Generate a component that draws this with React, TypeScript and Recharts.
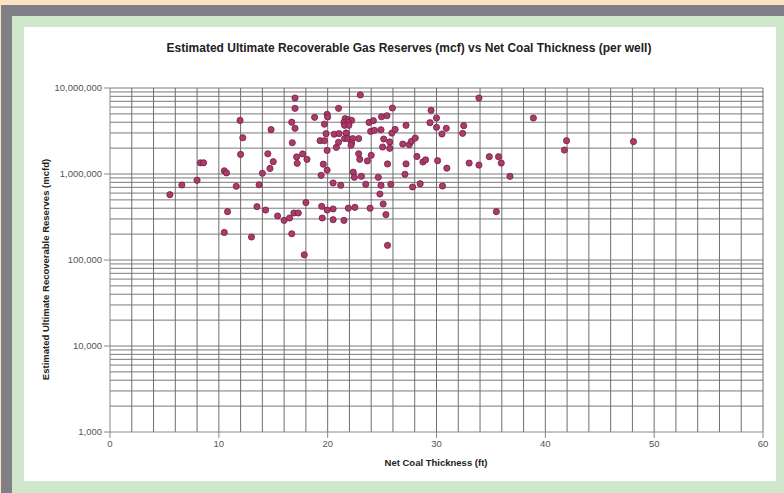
import React from "react";
import {
  ReferenceLine,
  Scatter,
  ScatterChart,
  XAxis,
  YAxis,
} from "recharts";

// net coal thickness (ft) per well
const thickness = [
  5.5, 6.6, 8.0, 8.3, 8.6, 10.5, 10.7, 10.8, 10.5, 11.6, 11.95, 12.2, 12.0, 13.0, 13.5, 13.7,
  14.0, 14.3, 14.5, 14.7, 14.8, 15.0, 15.4, 16.0, 16.5, 16.7, 16.9, 17.3, 16.7, 16.75, 17.0,
  17.0, 17.0, 17.15, 17.2, 17.7, 17.85, 18.0, 18.1, 18.8, 19.3, 19.4, 19.45, 19.5, 19.6, 19.7,
  19.7, 19.85, 19.95, 20.0, 19.95, 19.95, 19.95, 20.5, 20.5, 20.5, 20.6, 20.8, 21.0, 21.05,
  21.0, 21.2, 21.5, 21.6, 21.9, 22.2, 21.5, 21.9, 21.55, 21.95, 21.7, 21.55, 21.85, 22.3,
  22.85, 22.2, 22.15, 21.9, 22.35, 22.45, 22.5, 22.85, 23.0, 22.95, 23.1, 23.5, 23.65, 23.8,
  23.9, 23.95, 24.0, 24.2, 24.3, 24.65, 24.8, 24.9, 24.9, 24.95, 25.05, 25.1, 25.15, 25.35,
  25.45, 25.5, 25.5, 25.7, 25.7, 25.8, 25.9, 25.95, 26.2, 26.9, 27.1, 27.2, 27.2, 27.5, 27.7,
  27.8, 28.05, 28.2, 28.5, 28.75, 29.0, 29.4, 29.5, 30.0, 30.0, 30.1, 30.5, 30.55, 30.9,
  30.95, 32.4, 32.5, 33.0, 33.9, 33.9, 34.85, 35.5, 35.7, 35.95, 36.75, 38.9, 41.75, 41.95,
  48.1,
];

// estimated ultimate recoverable reserves (mcf) per well
const reserves = [
  575000, 745000, 845000, 1350000, 1350000, 1090000, 1030000, 365000, 209000, 720000,
  4200000, 2640000, 1690000, 185000, 417000, 750000, 1020000, 381000, 1720000, 1160000,
  3280000, 1390000, 325000, 289000, 308000, 202000, 352000, 352000, 4000000, 2310000,
  7650000, 5800000, 3400000, 1580000, 1330000, 1710000, 115000, 465000, 1480000, 4560000,
  2440000, 966000, 421000, 308000, 1300000, 3800000, 2440000, 2940000, 4940000, 4600000,
  1880000, 1110000, 381000, 786000, 392000, 294000, 2900000, 2040000, 5800000, 2950000,
  2340000, 739000, 289000, 4400000, 4300000, 4200000, 3980000, 3980000, 3680000, 3680000,
  3000000, 2580000, 2580000, 2580000, 2580000, 2300000, 2160000, 400000, 1050000, 916000,
  410000, 1720000, 8300000, 1480000, 940000, 760000, 1420000, 3980000, 400000, 3130000,
  1650000, 4170000, 3220000, 916000, 585000, 3270000, 739000, 4630000, 2060000, 448000,
  2550000, 337000, 4760000, 1310000, 148000, 2360000, 1990000, 760000, 2990000, 5850000,
  3300000, 2230000, 993000, 3680000, 1310000, 2190000, 2400000, 706000, 2620000, 1600000,
  771000, 1380000, 1460000, 3950000, 5500000, 4480000, 3490000, 1430000, 2920000, 725000,
  3400000, 1170000, 2970000, 3650000, 1340000, 7650000, 1270000, 1590000, 365000, 1590000,
  1340000, 940000, 4480000, 1900000, 2440000, 2380000,
];

const xTicks = [0, 10, 20, 30, 40, 50, 60];
const yTicks = [1000, 10000, 100000, 1000000, 10000000];
const xGridValues = [
  2, 4, 6, 8, 10, 12, 14, 16, 18, 20, 22, 24, 26, 28, 30, 32, 34, 36, 38, 40, 42, 44, 46, 48,
  50, 52, 54, 56, 58, 60,
];
const yGridValues = [
  2000, 3000, 4000, 5000, 6000, 7000, 8000, 9000,
  10000, 20000, 30000, 40000, 50000, 60000, 70000, 80000, 90000,
  100000, 200000, 300000, 400000, 500000, 600000, 700000, 800000, 900000,
  1000000, 2000000, 3000000, 4000000, 5000000, 6000000, 7000000, 8000000, 9000000,
  10000000,
];

const data = thickness.map((t, i) => ({ thickness: t, reserves: reserves[i] }));

const font = "'Liberation Sans', Arial, sans-serif";

function Dot(props: any) {
  const { cx, cy } = props;
  if (cx == null || cy == null) return null;
  return <circle cx={cx} cy={cy} r={3.1} fill="#ad3a6e" stroke="#71203f" strokeWidth={0.8} />;
}

export default function App() {
  return (
    <div
      style={{
        position: "absolute",
        left: 0,
        top: 0,
        width: 784,
        height: 493,
        background: "#fddfc2",
        overflow: "hidden",
        fontFamily: font,
      }}
    >
      <div style={{ position: "absolute", left: 1, top: 5, width: 783, height: 488, background: "#7f7f85" }} />
      <div style={{ position: "absolute", left: 12, top: 16, width: 772, height: 477, background: "#cfe8cc" }} />
      <div style={{ position: "absolute", left: 24, top: 27, width: 752, height: 454, background: "#ffffff" }}>
        <div
          style={{
            position: "absolute",
            left: 0,
            width: 770,
            top: 14,
            textAlign: "center",
            fontSize: 12,
            fontWeight: "bold",
            color: "#222",
          }}
        >
          Estimated Ultimate Recoverable Gas Reserves (mcf) vs Net Coal Thickness (per well)
        </div>
        <div
          style={{
            position: "absolute",
            left: 21 - 150,
            top: 243 - 6,
            width: 300,
            textAlign: "center",
            fontSize: 9.5,
            fontWeight: "bold",
            color: "#222",
            transform: "rotate(-90deg)",
          }}
        >
          Estimated Ultimate Recoverable Reserves (mcfd)
        </div>
        <div
          style={{
            position: "absolute",
            left: 412 - 150,
            top: 430,
            width: 300,
            textAlign: "center",
            fontSize: 9.5,
            fontWeight: "bold",
            color: "#222",
          }}
        >
          Net Coal Thickness (ft)
        </div>
        <ScatterChart
          width={752}
          height={454}
          margin={{ top: 61, right: 13, bottom: 19, left: 16 }}
        >
          <XAxis
            type="number"
            dataKey="thickness"
            domain={[0, 60]}
            ticks={xTicks}
            allowDataOverflow
            height={30}
            tick={{ fontSize: 9.5, fill: "#555", fontFamily: font }}
            stroke="#888"
            tickLine={{ stroke: "#888" }}
          />
          <YAxis
            type="number"
            dataKey="reserves"
            scale="log"
            domain={[1000, 10000000]}
            ticks={yTicks}
            allowDataOverflow
            width={70}
            tick={{ fontSize: 9.5, fill: "#555", fontFamily: font }}
            tickFormatter={(v: number) => v.toLocaleString("en-US")}
            stroke="#888"
            tickLine={{ stroke: "#888" }}
          />
          {yGridValues.map((v) => (
            <ReferenceLine key={"y" + v} y={v} stroke="#7a7a7a" strokeWidth={1} />
          ))}
          {xGridValues.map((v) => (
            <ReferenceLine key={"x" + v} x={v} stroke="#6f6f6f" strokeWidth={1} />
          ))}
          <Scatter data={data} shape={Dot} isAnimationActive={false} />
        </ScatterChart>
      </div>
    </div>
  );
}
